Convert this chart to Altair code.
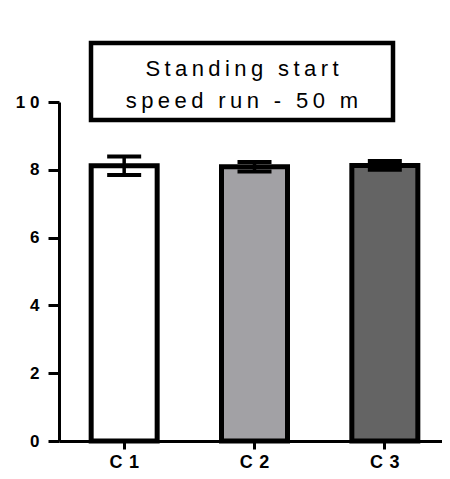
import altair as alt
import pandas as pd

groups = ["C1", "C2", "C3"]
means = [8.12, 8.09, 8.13]
errors = [0.27, 0.14, 0.13]
fills = ["#ffffff", "#a2a1a5", "#646464"]
title_lines = ["Standing start", "speed run - 50 m"]
y_ticks = [0, 2, 4, 6, 8, 10]

THIN = "\u2009"


def spaced(s):
    return THIN.join(list(s))


df = pd.DataFrame({
    "group": groups,
    "mean": means,
    "lo": [m - e for m, e in zip(means, errors)],
    "hi": [m + e for m, e in zip(means, errors)],
})

FONT = "Liberation Sans"

x_scale = alt.Scale(domain=groups, paddingInner=0, paddingOuter=0, range=[0, 391])

x = alt.X(
    "group:N",
    sort=groups,
    scale=x_scale,
    axis=alt.Axis(
        title=None,
        labelAngle=0,
        labelFont=FONT,
        labelFontSize=18,
        labelFontWeight="bold",
        labelColor="black",
        labelPadding=4,
        labelExpr="substring(datum.label,0,1) + ' \u200a' + substring(datum.label,1)",
        tickSize=8,
        tickWidth=3,
        tickColor="black",
        domainWidth=3,
        domainColor="black",
        grid=False,
    ),
)

y_scale = alt.Scale(domain=[0, 10], nice=False)

y_axis = alt.Axis(
    title=None,
    values=y_ticks,
    labelFont=FONT,
    labelFontSize=17,
    labelFontWeight="bold",
    labelColor="black",
    labelPadding=9,
    labelExpr="length(datum.label) > 1 ? substring(datum.label,0,1) + '\u2009\u200a' + substring(datum.label,1) : datum.label",
    tickSize=11,
    tickWidth=3,
    tickColor="black",
    domainWidth=3,
    domainColor="black",
    grid=False,
)

base = alt.Chart(df)

bars = base.mark_bar(size=66, stroke="black", strokeWidth=5).encode(
    x=x,
    y=alt.Y("mean:Q", scale=y_scale, axis=y_axis),
    fill=alt.Fill("group:N", scale=alt.Scale(domain=groups, range=fills), legend=None),
)

xe = alt.X("group:N", sort=groups)

rules = base.mark_rule(color="black", strokeWidth=3.5).encode(
    x=xe,
    y=alt.Y("lo:Q"),
    y2="hi:Q",
)

caps_hi = base.mark_tick(color="black", thickness=4, size=34, opacity=1).encode(
    x=xe,
    y=alt.Y("hi:Q"),
)
caps_lo = base.mark_tick(color="black", thickness=4, size=34, opacity=1).encode(
    x=xe,
    y=alt.Y("lo:Q"),
)

box = alt.Chart(pd.DataFrame({"k": [0]})).mark_rect(
    fill="white", stroke="black", strokeWidth=4.5
).encode(
    x=alt.value(32), x2=alt.value(334), y=alt.value(-59), y2=alt.value(18)
)


def title_line(text, ypix):
    return alt.Chart(pd.DataFrame({"line": [spaced(text)]})).mark_text(
        font=FONT, fontSize=22, color="black", align="center", baseline="middle"
    ).encode(
        text="line:N",
        x=alt.value(183),
        y=alt.value(ypix),
    )


title1 = title_line(title_lines[0], -33)
title2 = title_line(title_lines[1], -1)

chart = alt.layer(bars, rules, caps_hi, caps_lo, box, title1, title2).properties(
    width=383,
    height=339,
    background="white",
    padding={"left": 51, "top": 94, "right": 0, "bottom": 30},
    autosize=alt.AutoSizeParams(type="none"),
).configure_view(strokeWidth=0, stroke="transparent").configure_axis(grid=False)

chart.save("out.html", embed_options={"renderer": "svg", "actions": False})
